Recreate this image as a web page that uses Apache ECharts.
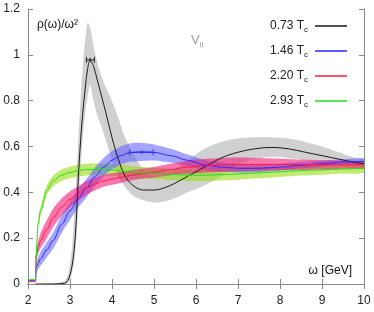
<!DOCTYPE html>
<html><head><meta charset="utf-8">
<script src="https://cdn.jsdelivr.net/npm/echarts@6/dist/echarts.min.js"></script>
<style>html,body{margin:0;padding:0;background:#fff}#c{width:374px;height:312px}</style>
</head><body><div id="c"></div>
<script>
// ---- data ----
const xTicks = [2,3,4,5,6,7,8,9,10];
const yTicks = [0,0.2,0.4,0.6,0.8,1,1.2];
const legendNames = ['0.73','1.46','2.20','2.93'];

// black (0.73 Tc)
const xBlack = [2.18,2.6,2.75,2.85,2.9,2.95,3.0,3.05,3.1,3.15,3.2,3.25,3.3,3.36,3.42,3.48,3.56,3.65,3.75,3.85,3.95,4.05,4.15,4.3,4.5,4.75,5.0,5.25,5.5,5.8,6.2,6.6,7.0,7.4,7.8,8.2,8.6,9.0,9.4,9.8,10];
const yBlack = [0,0,0.001,0.003,0.005,0.015,0.04,0.08,0.15,0.28,0.47,0.62,0.74,0.85,0.94,0.975,0.95,0.89,0.82,0.75,0.675,0.605,0.545,0.475,0.43,0.41,0.41,0.42,0.44,0.47,0.51,0.55,0.575,0.59,0.596,0.59,0.575,0.56,0.545,0.53,0.525];
const loBlack = [0,0,0,0,0,0.005,0.02,0.05,0.1,0.19,0.34,0.5,0.63,0.74,0.82,0.87,0.8,0.735,0.685,0.63,0.57,0.515,0.47,0.425,0.385,0.365,0.355,0.36,0.375,0.4,0.43,0.47,0.52,0.545,0.555,0.55,0.54,0.525,0.515,0.505,0.5];
const hiBlack = [0,0.002,0.006,0.012,0.02,0.04,0.09,0.16,0.3,0.46,0.64,0.8,0.94,1.06,1.14,1.12,1.04,0.965,0.905,0.86,0.82,0.775,0.725,0.645,0.57,0.5,0.47,0.475,0.5,0.54,0.59,0.62,0.635,0.64,0.64,0.635,0.62,0.6,0.575,0.55,0.545];

// common x for the three higher temperatures
const xHot = [2.0,2.18,2.19,2.24,2.3,2.45,2.6,2.8,3.0,3.2,3.4,3.6,3.8,4.0,4.2,4.4,4.6,4.8,5.0,5.4,5.8,6.2,6.6,7.0,7.5,8.0,8.5,9.0,9.5,10];
// blue (1.46 Tc)
const yBlue = [0.015,0.015,0.07,0.09,0.11,0.15,0.19,0.26,0.32,0.375,0.42,0.47,0.51,0.54,0.56,0.572,0.576,0.576,0.574,0.56,0.54,0.52,0.51,0.505,0.505,0.51,0.518,0.525,0.532,0.535];
const eBlue = [0.005,0.005,0.025,0.027,0.03,0.033,0.035,0.038,0.04,0.04,0.04,0.04,0.04,0.04,0.04,0.04,0.04,0.038,0.035,0.03,0.025,0.022,0.02,0.018,0.016,0.015,0.014,0.013,0.012,0.012];
// red (2.20 Tc)
const yRed = [0.01,0.01,0.12,0.16,0.19,0.24,0.29,0.335,0.37,0.395,0.42,0.437,0.45,0.458,0.465,0.472,0.478,0.483,0.488,0.5,0.51,0.516,0.52,0.522,0.522,0.522,0.521,0.52,0.52,0.52];
const eRed = [0.005,0.005,0.02,0.028,0.033,0.04,0.04,0.038,0.035,0.032,0.03,0.028,0.026,0.025,0.024,0.023,0.022,0.022,0.023,0.025,0.028,0.03,0.03,0.03,0.028,0.025,0.022,0.02,0.017,0.015];
// green (2.93 Tc)
const yGreen = [0.02,0.02,0.12,0.26,0.32,0.41,0.45,0.475,0.487,0.495,0.5,0.5,0.5,0.497,0.494,0.49,0.487,0.485,0.483,0.478,0.475,0.475,0.477,0.48,0.485,0.49,0.495,0.498,0.502,0.505];
const eGreen = [0.005,0.005,0.015,0.02,0.02,0.022,0.024,0.025,0.025,0.026,0.026,0.026,0.026,0.026,0.026,0.025,0.025,0.025,0.025,0.025,0.025,0.025,0.025,0.025,0.024,0.023,0.022,0.021,0.02,0.02];

// horizontal error bars: [xlo, xmid, xhi, y]
const errBlack = [[3.39,3.48,3.58,0.978]];
const errBlue = [[4.42,4.71,4.98,0.575]];

// ---- build ----
const pairs = (xs, ys) => xs.map((x,i)=>[x, ys[i]]);
const FONT = 'Liberation Sans';
const cBlack = '#1a1a1a', cBlue = '#2a2aff', cRed = '#ff1a3a', cGreen = '#22dd22';

// band drawn as one smoothed polygon through the axis scales
function band(xs, lo, hi, color, z, startIdx) {
  const rows = xs.map((x,i)=>[x, lo[i], hi[i]]).slice(startIdx || 0);
  return {type:'custom', data:rows, z:z, silent:true, clip:true,
    renderItem:function(params, api){
      if (params.dataIndex !== 0) return null;
      const up = rows.map(r=>api.coord([r[0], r[2]]));
      const dn = rows.map(r=>api.coord([r[0], r[1]])).reverse();
      return {type:'polygon', shape:{points: up.concat(dn), smooth:0.25},
        style:{fill:color, stroke:null}};
    }};
}
function line(name, xs, ys, color, mono) {
  const s = {type:'line', name:name, data: pairs(xs, ys), smooth:0.35, showSymbol:false,
    lineStyle:{color:color, width:1}, itemStyle:{color:color}, z:10};
  if (mono) s.smoothMonotone = 'x';
  return s;
}
function errSeries(data, color) {
  return {type:'custom', data:data, z:11, silent:true,
    renderItem:function(params, api){
      const y = api.value(3);
      const a = api.coord([api.value(0), y]), m = api.coord([api.value(1), y]), b = api.coord([api.value(2), y]);
      const st = {stroke:color, lineWidth:1, fill:null};
      return {type:'group', children:[
        {type:'line', shape:{x1:a[0],y1:a[1],x2:b[0],y2:b[1]}, style:st},
        {type:'line', shape:{x1:a[0],y1:a[1]-3,x2:a[0],y2:a[1]+3}, style:st},
        {type:'line', shape:{x1:b[0],y1:b[1]-3,x2:b[0],y2:b[1]+3}, style:st},
        {type:'line', shape:{x1:m[0],y1:m[1]-2,x2:m[0],y2:m[1]+2}, style:st}
      ]};
    }};
}
const lo = (y,e)=>y.map((v,i)=>v-e[i]);
const hi = (y,e)=>y.map((v,i)=>v+e[i]);

const series = [
  band(xBlack, loBlack, hiBlack, 'rgb(208,208,208)', 1, 0),
  band(xHot, lo(yGreen,eGreen), hi(yGreen,eGreen), 'rgba(150,220,20,0.6)', 2, 2),
  band(xHot, lo(yBlue,eBlue), hi(yBlue,eBlue), 'rgba(90,90,255,0.55)', 3, 2),
  band(xHot, lo(yRed,eRed), hi(yRed,eRed), 'rgba(240,30,120,0.6)', 4, 2),
  line(legendNames[0], xBlack, yBlack, cBlack, false),
  line(legendNames[1], xHot, yBlue, cBlue, true),
  line(legendNames[2], xHot, yRed, cRed, true),
  line(legendNames[3], xHot, yGreen, cGreen, true),
  errSeries(errBlack, cBlack), errSeries(errBlue, cBlue)
];

const axisCol = '#888';
const chart = echarts.init(document.getElementById('c'), null, {renderer:'canvas'});
chart.setOption({
  animation:false,
  textStyle:{fontFamily:FONT},
  grid:{left:28, right:10, top:9, bottom:28},
  xAxis:[
    {type:'value', min:xTicks[0], max:xTicks[xTicks.length-1], interval:1,
     axisLine:{lineStyle:{color:axisCol}}, axisTick:{inside:true, length:5, lineStyle:{color:axisCol}},
     axisLabel:{color:'#222', fontSize:12, margin:11, fontFamily:FONT}, splitLine:{show:false}},
    {type:'value', position:'top', min:2, max:10, interval:1,
     axisLine:{lineStyle:{color:axisCol}}, axisTick:{inside:true, length:5, lineStyle:{color:axisCol}},
     axisLabel:{show:false}, splitLine:{show:false}}
  ],
  yAxis:[
    {type:'value', min:yTicks[0], max:yTicks[yTicks.length-1], interval:0.2,
     axisLine:{show:true, lineStyle:{color:axisCol}}, axisTick:{show:true, inside:true, length:5, lineStyle:{color:axisCol}},
     axisLabel:{color:'#222', fontSize:12, margin:8, fontFamily:FONT}, splitLine:{show:false}},
    {type:'value', position:'right', min:0, max:1.2, interval:0.2,
     axisLine:{show:true, lineStyle:{color:axisCol}}, axisTick:{show:true, inside:true, length:5, lineStyle:{color:axisCol}},
     axisLabel:{show:false}, splitLine:{show:false}}
  ],
  legend:{
    data: legendNames.map(n=>({name:n, icon:'rect'})),
    orient:'vertical', right:22, top:15, align:'right', itemWidth:32, itemHeight:1.5, itemGap:11,
    formatter: n => '{a|' + n + ' T}{s|c}',
    textStyle:{rich:{
      a:{fontSize:12, color:'#222', fontFamily:FONT, lineHeight:16},
      s:{fontSize:8, color:'#222', fontFamily:FONT, verticalAlign:'bottom', lineHeight:10, padding:[0,2,0,0]}
    }}
  },
  graphic:[
    {type:'text', left:37, top:19, style:{text:'ρ(ω)/ω²', font:'12px "Liberation Sans"', fill:'#111'}},
    {type:'text', left:191, top:34, style:{rich:{v:{fontSize:13, fill:'#999', fontFamily:FONT, lineHeight:16}, s:{fontSize:8, fill:'#999', fontFamily:FONT, verticalAlign:'bottom', lineHeight:9}}, text:'{v|V}{s|ii}'}},
    {type:'text', right:22, top:265, style:{text:'ω [GeV]', font:'12px "Liberation Sans"', fill:'#111'}}
  ],
  series: series
});
</script></body></html>
